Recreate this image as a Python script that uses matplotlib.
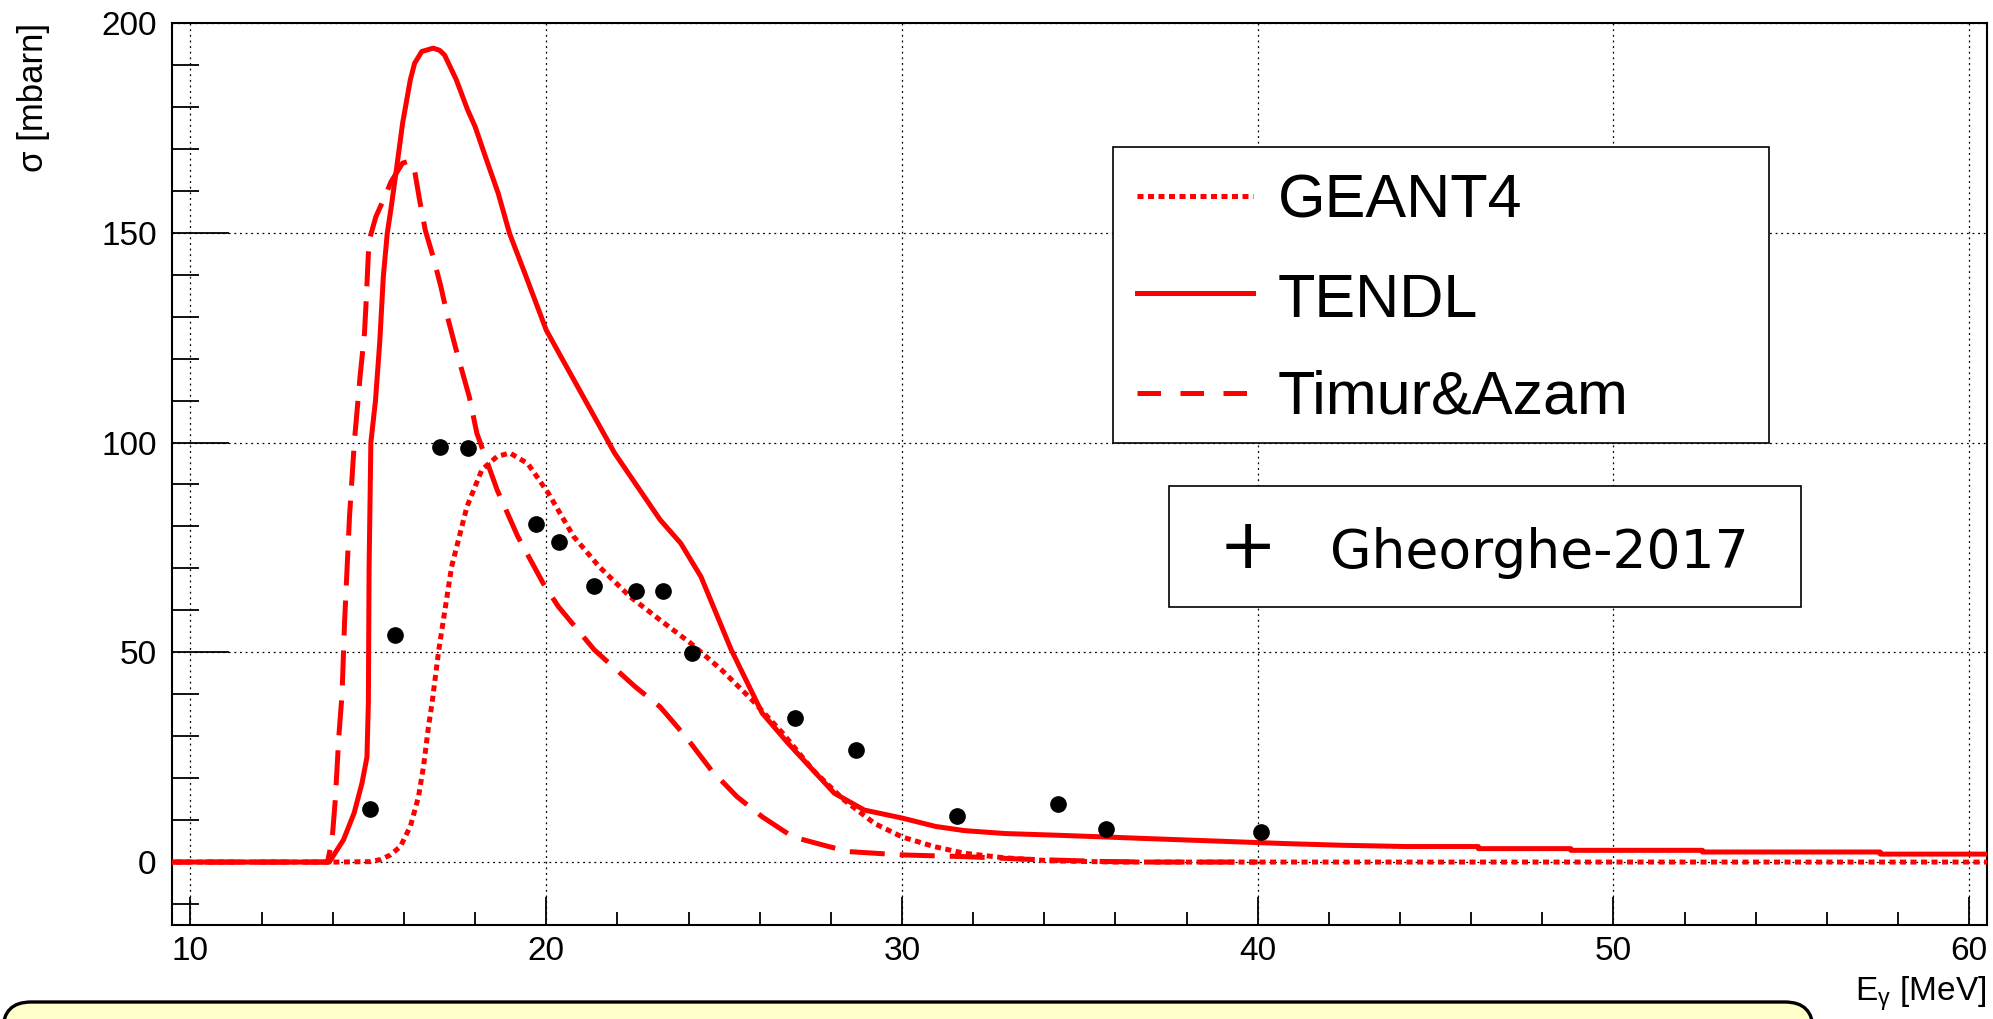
import numpy as np
import matplotlib.pyplot as plt
from matplotlib.patches import Rectangle, FancyBboxPatch
from matplotlib.lines import Line2D
from matplotlib.ticker import MultipleLocator

plt.rcParams["font.family"] = "Liberation Sans"
plt.rcParams["mathtext.fontset"] = "custom"
plt.rcParams["mathtext.rm"] = "Liberation Sans"
plt.rcParams["mathtext.it"] = "Liberation Sans"

# DATA
# TENDL (solid)
tendl_e = [9.0, 13.9, 14.3, 14.6, 14.82, 14.96, 15.0, 15.02, 15.07, 15.2, 15.32,
           15.42, 15.53, 15.64, 15.8, 15.96, 16.18, 16.3, 16.5, 16.82, 17.0, 17.14,
           17.47, 17.79, 18.0, 18.32, 18.65, 18.97, 19.4, 20.0, 20.47, 21.1, 21.92,
           23.2, 23.78, 24.35, 25.2, 26.07, 26.8, 28.1, 28.94, 30.0, 30.94, 31.75,
           32.9, 34.35, 35.65, 36.9, 38.2, 39.5, 40.8, 42.4, 44.2, 46.2, 46.2,
           48.8, 48.8, 52.5, 52.5, 57.5, 57.5, 61.0]
tendl_xs = [0, 0, 5.3, 11.7, 18.8, 25.0, 38.0, 70.0, 100.0, 110.0, 124.0,
            139.5, 149.8, 156.0, 165.8, 176.0, 186.5, 190.4, 193.2, 194.0, 193.5, 192.4,
            186.5, 179.3, 175.3, 167.4, 159.4, 149.8, 140.3, 126.8, 119.6, 110.0, 97.5,
            81.6, 76.0, 68.0, 50.6, 35.5, 28.3, 16.4, 12.4, 10.5, 8.5, 7.5,
            6.8, 6.4, 6.0, 5.6, 5.2, 4.8, 4.4, 4.0, 3.7, 3.7, 3.2,
            3.2, 2.8, 2.8, 2.4, 2.4, 1.9, 1.9]

# Timur&Azam (dashed)
timur_e = [9.0, 13.85, 13.98, 14.07, 14.17, 14.26, 14.33, 14.47, 14.61, 14.77,
           14.89, 14.94, 15.0, 15.05, 15.21, 15.42, 15.64, 15.96, 16.12, 16.28,
           16.44, 16.6, 16.82, 17.04, 17.25, 17.47, 17.84, 18.05, 18.62, 19.2,
           19.91, 20.34, 21.35, 22.5, 23.2, 23.92, 24.64, 25.36, 26.07, 26.93,
           27.94, 28.5, 30.0, 31.75, 33.4, 35.6, 37.0, 40.0]
timur_xs = [0, 0, 5.3, 14.8, 30.0, 40.0, 57.0, 82.4, 100.6, 116.0,
            126.0, 134.0, 145.0, 149.0, 153.8, 157.8, 162.2, 166.6, 167.0, 165.8,
            157.8, 150.6, 144.3, 137.1, 129.1, 122.0, 110.8, 102.2, 88.7, 77.6,
            66.5, 60.9, 50.6, 41.8, 37.0, 29.9, 21.9, 15.6, 10.8, 6.0,
            3.7, 2.5, 1.7, 1.3, 0.7, 0.15, 0, 0]

# GEANT4 (dotted)
geant_e = [9.0, 14.1, 15.06, 15.34, 15.62, 15.9, 16.18, 16.41, 16.55, 16.69,
           16.79, 16.98, 17.34, 17.77, 18.19, 18.62, 18.98, 19.48, 20.06, 20.77,
           21.49, 22.35, 23.2, 24.07, 24.93, 25.79, 26.65, 27.5, 28.37, 29.23,
           30.0, 30.9, 31.75, 32.9, 34.2, 36.0, 61.0]
geant_xs = [0, 0, 0.1, 0.6, 1.7, 3.7, 8.5, 15.6, 22.8, 32.3,
            37.9, 50.6, 70.4, 84.7, 93.5, 96.7, 97.5, 95.0, 87.9, 77.6,
            70.4, 63.3, 57.7, 52.1, 45.8, 38.6, 30.7, 21.9, 14.8, 9.2,
            6.0, 3.7, 2.1, 1.0, 0.3, 0, 0]

# Gheorghe-2017 (points)
gh_e = [15.04, 15.75, 17.0, 17.8, 19.71, 20.36, 21.35, 22.52, 23.27, 24.11,
        27.0, 28.7, 31.55, 34.38, 35.74, 40.1]
gh_xs = [12.6, 54.1, 99.0, 98.8, 80.6, 76.2, 65.9, 64.7, 64.7, 49.8,
         34.3, 26.7, 10.9, 13.9, 7.9, 7.1]

W, H = 1993, 1019


def fx(px):
    return px / W


def fy(py):
    return 1 - py / H


fig = plt.figure(figsize=(W / 100, H / 100), dpi=100)
ax = fig.add_axes([fx(172), fy(925), fx(1987) - fx(172), fy(23) - fy(925)])

lw = 3.6
ax.plot(timur_e, timur_xs, color="red", lw=lw, linestyle=(0, (7, 3)),
        dash_capstyle="butt", zorder=3)
ax.plot(tendl_e, tendl_xs, color="red", lw=lw, zorder=3)
ax.plot(geant_e, geant_xs, color="red", lw=lw, linestyle=(0, (1.2, 0.9)),
        dash_capstyle="butt", zorder=3)
ax.plot(gh_e, gh_xs, "o", color="black", ms=11, zorder=4)

ax.set_xlim(9.48, 60.5)
ax.set_ylim(-15, 200)

ax.xaxis.set_major_locator(MultipleLocator(10))
ax.xaxis.set_minor_locator(MultipleLocator(2))
ax.yaxis.set_major_locator(MultipleLocator(50))
ax.yaxis.set_minor_locator(MultipleLocator(10))

ax.tick_params(axis="both", which="both", direction="in", width=1.3,
               labelsize=24, top=False, right=False)
ax.tick_params(axis="x", which="major", length=20, pad=8)
ax.tick_params(axis="x", which="minor", length=9.5)
ax.tick_params(axis="y", which="major", length=41, pad=11)
ax.tick_params(axis="y", which="minor", length=19.5)

ax.grid(True, which="major", color="black", lw=0.9, linestyle=(0, (1.5, 3)))
ax.set_axisbelow(True)
for s in ax.spines.values():
    s.set_linewidth(1.5)

fig.text(fx(33), fy(23), "σ [mbarn]", rotation=90, ha="center", va="top",
         fontsize=25)
fig.text(fx(1986), fy(994), r"E$_{\gamma}$ [MeV]", ha="right", va="center",
         fontsize=24)

# legend box 1
fig.patches.append(Rectangle((fx(1113), fy(443)), fx(1769) - fx(1113),
                             fy(147) - fy(443), transform=fig.transFigure,
                             facecolor="white", edgecolor="black", lw=1.2, zorder=5))
leg_rows = [("GEANT4", (0, (1.2, 0.9)), 196, 217),
            ("TENDL", "-", 293, 317),
            ("Timur&Azam", (0, (4.7, 3.9)), 393, 413)]
for label, ls, yl, yb in leg_rows:
    fig.add_artist(Line2D([fx(1137), fx(1253)], [fy(yl), fy(yl)], color="red",
                          lw=lw, linestyle=ls, dash_capstyle="butt", zorder=6))
    fig.text(fx(1278), fy(yb), label, ha="left", va="baseline", fontsize=44,
             zorder=6)

# legend box 2
fig.patches.append(Rectangle((fx(1169), fy(607)), fx(1801) - fx(1169),
                             fy(486) - fy(607), transform=fig.transFigure,
                             facecolor="white", edgecolor="black", lw=1.2, zorder=5))
fig.text(fx(1248), fy(549), "+", ha="center", va="center", fontsize=50,
         family="DejaVu Sans", zorder=6)
fig.text(fx(1330), fy(568), "Gheorghe-2017", ha="left", va="baseline",
         fontsize=38.5, family="DejaVu Sans", zorder=6)

# yellow pave at the bottom
fig.patches.append(FancyBboxPatch((0.03, -0.6), 18.1, 0.6 + 0.17,
                                  boxstyle="round,pad=0,rounding_size=0.28",
                                  transform=fig.dpi_scale_trans,
                                  facecolor="#ffffcc", edgecolor="black",
                                  lw=2.4, zorder=5))

fig.savefig("out.png", dpi=100)
